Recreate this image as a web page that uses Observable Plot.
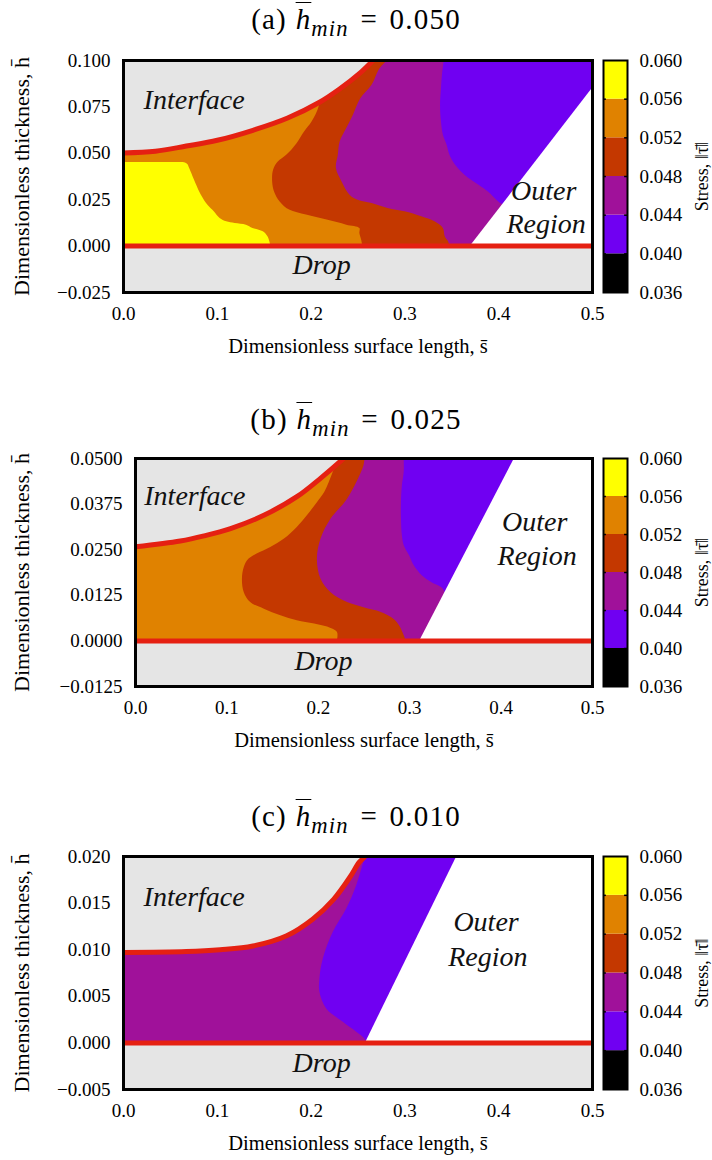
<!DOCTYPE html>
<html>
<head>
<meta charset="utf-8">
<script src="https://cdn.jsdelivr.net/npm/d3@7"></script>
<script src="https://cdn.jsdelivr.net/npm/@observablehq/plot@0.6"></script>
<style>
  body { margin: 0; background: #ffffff; }
  #root { position: relative; width: 712px; height: 1160px; overflow: hidden; font-family: "Liberation Serif", serif; color: #000; }
  .title { position: absolute; left: 0; width: 712px; text-align: center; font-family: "Liberation Serif", serif; font-size: 29px; line-height: 36px; white-space: nowrap; letter-spacing: 1.2px; }
  .title .hb { font-style: italic; text-decoration: overline; text-decoration-thickness: 1.2px; margin-left: 0.3em; }
  .title sub { font-size: 0.78em; font-style: italic; vertical-align: -0.3em; line-height: 0; }
  .title .eq { margin: 0 0.4em; }
</style>
</head>
<body>
<div id="root"></div>
<script>
// ---------------- shared data ----------------
const bandEdges = [0.036, 0.040, 0.044, 0.048, 0.052, 0.056, 0.060];
const bandColors = ["#000000", "#7000f2", "#a0119a", "#c43800", "#e08200", "#ffff00"];
const xTicks = [0, 0.1, 0.2, 0.3, 0.4, 0.5];
const regionLabels = ["Interface", "Drop", "Outer", "Region"];
const stressLabel = "Stress, \u2016\u03c4\u0304\u2016";
const xLabel = "Dimensionless surface length, s\u0304";
const yLabel = "Dimensionless thickness, h\u0304";

// ---------------- panel (a): h_min = 0.050 ----------------
const aHmin = "0.050";
const aYTicks = [-0.025, 0, 0.025, 0.05, 0.075, 0.1];
const aInterfaceS = [0, 0.034, 0.067, 0.100, 0.138, 0.175, 0.209, 0.230, 0.252, 0.266, 0.272];
const aInterfaceH = [0.0502, 0.0511, 0.0539, 0.0570, 0.0624, 0.0690, 0.0775, 0.0845, 0.0932, 0.1000, 0.1030];
const aOuterS = [0.370, 0.500];
const aOuterH = [0, 0.085];
const aPurpleH = [0, 0.0200, 0.0238, 0.0292, 0.0328, 0.0382, 0.0435, 0.0489, 0.0543, 0.0597, 0.0668, 0.0758, 0.0848, 0.0919, 0.1000];
const aPurpleS = [0.410, 0.410, 0.400, 0.389, 0.379, 0.364, 0.354, 0.348, 0.345, 0.341, 0.339, 0.338, 0.339, 0.340, 0.342];
const aRedH = [0, 0.0023, 0.0050, 0.0095, 0.0131, 0.0158, 0.0185, 0.0203, 0.0229, 0.0247, 0.0274, 0.0346, 0.0418, 0.0489, 0.0561, 0.0633, 0.0704, 0.0794, 0.0866, 0.0955, 0.1000];
const aRedS = [0.348, 0.3465, 0.343, 0.341, 0.332, 0.318, 0.300, 0.282, 0.265, 0.250, 0.2415, 0.233, 0.227, 0.229, 0.231, 0.238, 0.245, 0.253, 0.265, 0.2735, 0.282];
const aOrangeH = [0, 0.0030, 0.0068, 0.0095, 0.0113, 0.0140, 0.0167, 0.0194, 0.0238, 0.0292, 0.0346, 0.0409, 0.0453, 0.0489, 0.0552, 0.0615, 0.0668, 0.0758, 0.1000];
const aOrangeS = [0.255, 0.254, 0.252, 0.252, 0.238, 0.217, 0.195, 0.177, 0.167, 0.161, 0.159, 0.160, 0.165, 0.174, 0.185, 0.193, 0.201, 0.209, 0.215];
const aYellowH = [0, 0.0023, 0.0050, 0.0077, 0.0095, 0.0113, 0.0122, 0.0131, 0.0149, 0.0184, 0.0220, 0.0274, 0.0328, 0.0418, 0.0440, 0.0450];
const aYellowS = [0.157, 0.156, 0.154, 0.149, 0.138, 0.131, 0.119, 0.110, 0.103, 0.097, 0.090, 0.083, 0.078, 0.0705, 0.0685, 0.0640];
const aLabelS = [0.0753, 0.2112, 0.448, 0.4506];
const aLabelH = [0.0785, -0.0101, 0.0298, 0.0120];

// ---------------- panel (b): h_min = 0.025 ----------------
const bHmin = "0.025";
const bYTicks = [-0.0125, 0, 0.0125, 0.025, 0.0375, 0.05];
const bInterfaceS = [0, 0.049, 0.075, 0.104, 0.141, 0.177, 0.203, 0.225, 0.2305];
const bInterfaceH = [0.0258, 0.0274, 0.0288, 0.0308, 0.0345, 0.0396, 0.0447, 0.0494, 0.0507];
const bOuterS = [0.311, 0.4147, 0.500];
const bOuterH = [0, 0.050, 0.050];
const bPurpleH = [0, 0.0137, 0.0160, 0.0178, 0.0206, 0.0233, 0.0261, 0.0288, 0.0334, 0.0379, 0.0425, 0.0462, 0.0500];
const bPurpleS = [0.335, 0.338, 0.324, 0.314, 0.305, 0.300, 0.294, 0.292, 0.291, 0.291, 0.292, 0.294, 0.294];
const bRedH = [0, 0.0014, 0.0041, 0.0059, 0.0078, 0.0091, 0.0105, 0.0132, 0.0169, 0.0224, 0.0279, 0.0334, 0.0388, 0.0480, 0.0500];
const bRedS = [0.296, 0.294, 0.289, 0.283, 0.269, 0.250, 0.232, 0.214, 0.203, 0.199, 0.203, 0.214, 0.232, 0.250, 0.251];
const bOrangeH = [0, 0.0023, 0.0034, 0.0046, 0.0055, 0.0069, 0.0087, 0.0105, 0.0132, 0.0169, 0.0201, 0.0224, 0.0238, 0.0256, 0.0279, 0.0311, 0.0343, 0.0379, 0.0407, 0.0434, 0.0500];
const bOrangeS = [0.221, 0.221, 0.214, 0.196, 0.177, 0.159, 0.141, 0.126, 0.119, 0.117, 0.119, 0.124, 0.133, 0.148, 0.163, 0.177, 0.188, 0.199, 0.207, 0.212, 0.222];
const bLabelS = [0.0649, 0.2056, 0.4368, 0.4395];
const bLabelH = [0.0396, -0.0056, 0.0326, 0.0232];

// ---------------- panel (c): h_min = 0.010 ----------------
const cHmin = "0.010";
const cYTicks = [-0.005, 0, 0.005, 0.01, 0.015, 0.02];
const cInterfaceS = [0, 0.067, 0.103, 0.138, 0.174, 0.202, 0.224, 0.2415, 0.2514, 0.2575, 0.261];
const cInterfaceH = [0.0097, 0.0098, 0.0100, 0.0104, 0.0115, 0.0133, 0.0154, 0.0178, 0.0194, 0.0200, 0.0205];
const cOuterS = [0.258, 0.3554, 0.500];
const cOuterH = [0, 0.020, 0.020];
const cPurpleH = [0, 0.0004, 0.00115, 0.00222, 0.00364, 0.00543, 0.00686, 0.0090, 0.01186, 0.01436, 0.01686, 0.0200];
const cPurpleS = [0.259, 0.2575, 0.2486, 0.2343, 0.2166, 0.2094, 0.2094, 0.213, 0.2237, 0.238, 0.2486, 0.258];
const cLabelS = [0.0753, 0.2112, 0.3865, 0.3884];
const cLabelH = [0.01566, -0.00212, 0.01295, 0.0092];

// ---------------- styling ----------------
const GRAY = "#e5e5e5";
const RED = "#e52012";
const VIOLET = bandColors[1], PURPLE = bandColors[2], BROWN = bandColors[3], ORANGE = bandColors[4], YELLOW = bandColors[5];
const FONT = "'Liberation Serif', 'Times New Roman', serif";

const rows = (H, S) => H.map((h, i) => ({h, s: S[i]}));

const panels = [
  {letter: "a", hmin: aHmin, yTicks: aYTicks, fmt: ".3f", iS: aInterfaceS, iH: aInterfaceH, oS: aOuterS, oH: aOuterH,
   levels: [[PURPLE, aPurpleH, aPurpleS], [BROWN, aRedH, aRedS], [ORANGE, aOrangeH, aOrangeS], [YELLOW, aYellowH, aYellowS]],
   lS: aLabelS, lH: aLabelH, titleTop: 1, svgTop: 40, left: 123, frameH: 232},
  {letter: "b", hmin: bHmin, yTicks: bYTicks, fmt: ".4f", iS: bInterfaceS, iH: bInterfaceH, oS: bOuterS, oH: bOuterH,
   levels: [[PURPLE, bPurpleH, bPurpleS], [BROWN, bRedH, bRedS], [ORANGE, bOrangeH, bOrangeS]],
   lS: bLabelS, lH: bLabelH, titleTop: 401, svgTop: 438, left: 135, frameH: 228},
  {letter: "c", hmin: cHmin, yTicks: cYTicks, fmt: ".3f", iS: cInterfaceS, iH: cInterfaceH, oS: cOuterS, oH: cOuterH,
   levels: [[PURPLE, cPurpleH, cPurpleS]],
   lS: cLabelS, lH: cLabelH, titleTop: 798, svgTop: 836, left: 123, frameH: 233}
];

const root = document.getElementById("root");
function place(el, left, top) {
  el.style.position = "absolute";
  el.style.left = left + "px";
  el.style.top = top + "px";
  root.appendChild(el);
}

const MT = 20, MB = 70, RIGHT = 592, MAIN_W = 594, Y_LABEL_X = 21;

for (const p of panels) {
  // title
  const t = document.createElement("div");
  t.className = "title";
  t.innerHTML = `(${p.letter})<span class="hb">h</span><sub>min</sub><span class="eq">=</span>${p.hmin}`;
  t.style.top = p.titleTop + "px";
  root.appendChild(t);

  const yMin = p.yTicks[0], yMax = p.yTicks[p.yTicks.length - 1];
  const iface = rows(p.iH, p.iS);
  const outer = rows(p.oH, p.oS);
  const drop = [{s: xTicks[0]}, {s: xTicks[xTicks.length - 1]}];
  const labels = regionLabels.map((text, i) => ({text, s: p.lS[i], h: p.lH[i]}));
  const height = MT + p.frameH + MB;

  const marks = [Plot.frame({fill: VIOLET})];
  for (const [color, H, S] of p.levels) {
    marks.push(Plot.areaX(rows(H, S), {y: "h", x1: 0, x2: "s", fill: color, curve: "catmull-rom", clip: true}));
  }
  marks.push(
    Plot.areaY(outer, {x: "s", y1: 0, y2: "h", fill: "#ffffff", clip: true}),
    Plot.areaY(iface, {x: "s", y1: "h", y2: yMax, fill: GRAY, curve: "catmull-rom", clip: true}),
    Plot.areaY(drop, {x: "s", y1: yMin, y2: 0, fill: GRAY}),
    Plot.line(iface, {x: "s", y: "h", stroke: RED, strokeWidth: 5, curve: "catmull-rom", clip: true}),
    Plot.ruleY([0], {stroke: RED, strokeWidth: 5}),
    Plot.text(labels, {x: "s", y: "h", text: "text", fontStyle: "italic", fontSize: 28, fontFamily: FONT, textAnchor: "middle", lineAnchor: "middle", fill: "#111"}),
    Plot.frame({stroke: "#000", strokeWidth: 3}),
    Plot.text([xLabel], {text: d => d, frameAnchor: "bottom", dy: 54, lineAnchor: "middle", fontSize: 20.5, fontFamily: FONT}),
    Plot.text([yLabel], {text: d => d, frameAnchor: "left", dx: -(p.left - Y_LABEL_X), rotate: -90, lineAnchor: "middle", textAnchor: "middle", fontSize: 22, fontFamily: FONT})
  );

  const main = Plot.plot({
    width: MAIN_W, height,
    marginLeft: p.left, marginRight: MAIN_W - RIGHT, marginTop: MT, marginBottom: MB,
    style: {fontFamily: FONT, fontSize: "19px", background: "transparent", color: "#000", overflow: "visible"},
    x: {domain: [xTicks[0], xTicks[xTicks.length - 1]], ticks: xTicks, tickFormat: d3.format(".1f"), tickSize: 0, tickPadding: 14, label: null},
    y: {domain: [yMin, yMax], ticks: p.yTicks, tickFormat: d3.format(p.fmt), tickSize: 0, tickPadding: 13, label: null},
    marks
  });
  place(main, 0, p.svgTop);

  // colorbar
  const bands = bandColors.map((c, i) => ({lo: bandEdges[i], hi: bandEdges[i + 1], c}));
  const inner = bandEdges.slice(1, -1);
  const bar = Plot.plot({
    width: 118, height,
    marginLeft: 9, marginRight: 85, marginTop: MT, marginBottom: MB,
    style: {fontFamily: FONT, fontSize: "19px", background: "transparent", color: "#000", overflow: "visible"},
    x: {domain: [0, 1], axis: null},
    y: {domain: [bandEdges[0], bandEdges[bandEdges.length - 1]], ticks: bandEdges, tickFormat: d3.format(".3f"), axis: "right",
        tickSize: 0, tickPadding: 12, label: null},
    color: {type: "identity"},
    marks: [
      Plot.rect(bands, {x1: 0, x2: 1, y1: "lo", y2: "hi", fill: "c"}),
      Plot.ruleY(inner, {x1: 0, x2: 0.12, stroke: "#000", strokeWidth: 1.5}),
      Plot.ruleY(inner, {x1: 0.88, x2: 1, stroke: "#000", strokeWidth: 1.5}),
      Plot.frame({stroke: "#000", strokeWidth: 2}),
      Plot.text([stressLabel], {text: d => d, frameAnchor: "right", dx: 75, rotate: -90, lineAnchor: "middle", textAnchor: "middle", fontSize: 18, fontFamily: FONT})
    ]
  });
  place(bar, MAIN_W, p.svgTop);
}
</script>
</body>
</html>
